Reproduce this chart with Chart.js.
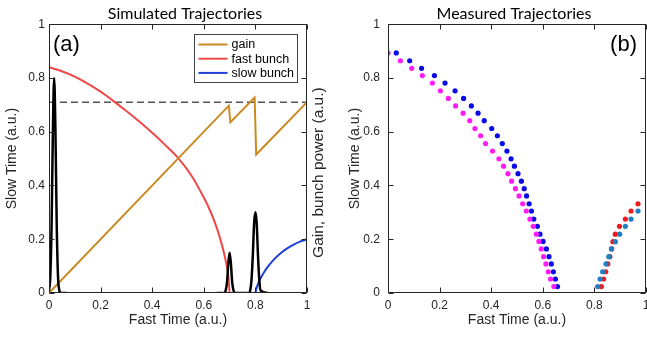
<!DOCTYPE html>
<html>
<head>
<meta charset="utf-8">
<script src="https://cdn.jsdelivr.net/npm/chart.js@4.4.1/dist/chart.umd.min.js"></script>
<style>
  html, body { margin: 0; padding: 0; background: #fff; overflow: hidden; width: 647px; height: 337px; }
  canvas { position: absolute; top: 0; }
  #left { left: 0; }
  #right { left: 335px; }
</style>
</head>
<body>
<canvas id="left" width="370" height="337"></canvas>
<canvas id="right" width="358" height="337"></canvas>
<script>
/**************************************************
 DATA
**************************************************/
// (a) simulated trajectories
const gainX = [0, 0.697, 0.703, 0.797, 0.803, 1];
const gainY = [0, 0.697, 0.635, 0.727, 0.515, 0.71];

const fastX = [0, 0.05, 0.1, 0.15, 0.2, 0.25, 0.3, 0.35, 0.4, 0.45, 0.5, 0.55, 0.6, 0.625, 0.65, 0.67, 0.685, 0.695, 0.7];
const fastY = [0.84, 0.825, 0.805, 0.779, 0.749, 0.714, 0.677, 0.638, 0.596, 0.551, 0.503, 0.44, 0.355, 0.305, 0.243, 0.18, 0.12, 0.065, 0];

const slowX = [0.8, 0.805, 0.815, 0.83, 0.85, 0.875, 0.9, 0.925, 0.95, 0.975, 1];
const slowY = [0, 0.02, 0.045, 0.072, 0.1, 0.128, 0.15, 0.167, 0.181, 0.192, 0.2];

const threshX = [0, 1];
const threshY = [0.71, 0.71];

const pulseAX = [0, 0.005, 0.01, 0.015, 0.02, 0.025, 0.03, 0.035, 0.04, 0.045, 0.07];
const pulseAY = [0.01, 0.06, 0.25, 0.6, 0.8, 0.6, 0.25, 0.06, 0.01, 0, 0];
const pulseBX = [0.65, 0.68, 0.685, 0.69, 0.695, 0.7, 0.705, 0.71, 0.715, 0.72, 0.775, 0.78, 0.785, 0.79, 0.795, 0.8, 0.805, 0.81, 0.815, 0.82, 0.85];
const pulseBY = [0, 0, 0.01, 0.04, 0.11, 0.15, 0.11, 0.04, 0.01, 0, 0, 0.01, 0.05, 0.14, 0.26, 0.3, 0.26, 0.14, 0.05, 0.01, 0];

const legendNames = ["gain", "fast bunch", "slow bunch"];

// (b) measured trajectories
const measY = [0.893, 0.864, 0.836, 0.809, 0.781, 0.752, 0.724, 0.696, 0.669, 0.641, 0.612, 0.585, 0.556, 0.528, 0.499, 0.472,
               0.444, 0.416, 0.388, 0.361, 0.332, 0.305, 0.275, 0.248, 0.219, 0.192, 0.164, 0.135, 0.108, 0.079, 0.052, 0.024];
const magX  = [0.000, 0.048, 0.092, 0.133, 0.172, 0.203, 0.234, 0.262, 0.291, 0.317, 0.337, 0.359, 0.378, 0.405, 0.430, 0.448,
               0.465, 0.479, 0.494, 0.508, 0.522, 0.536, 0.550, 0.563, 0.575, 0.585, 0.594, 0.603, 0.612, 0.621, 0.630, 0.643];
const bluX  = [0.032, 0.084, 0.130, 0.180, 0.221, 0.260, 0.293, 0.323, 0.349, 0.373, 0.402, 0.424, 0.443, 0.461, 0.477, 0.490,
               0.504, 0.517, 0.528, 0.537, 0.547, 0.556, 0.565, 0.579, 0.589, 0.601, 0.614, 0.624, 0.633, 0.641, 0.649, 0.657];

const redY   = [0.024, 0.052, 0.079, 0.108, 0.135, 0.164, 0.191, 0.219, 0.248, 0.275, 0.305, 0.332];
const redX   = [0.827, 0.836, 0.844, 0.852, 0.860, 0.867, 0.872, 0.881, 0.897, 0.920, 0.942, 0.969];
const steelY = [0.024, 0.052, 0.079, 0.108, 0.135, 0.164, 0.191, 0.219, 0.248, 0.275, 0.305];
const steelX = [0.813, 0.822, 0.832, 0.845, 0.856, 0.866, 0.881, 0.898, 0.920, 0.942, 0.969];

const ticks01 = [0, 0.2, 0.4, 0.6, 0.8, 1];

/**************************************************
 HELPERS
**************************************************/
const pts = (xs, ys) => xs.map((x, i) => ({ x, y: ys[i] }));
const AXIS = "#262626";
const FONT = '"Liberation Sans", Arial, sans-serif';
Chart.defaults.font.family = FONT;
Chart.defaults.color = AXIS;

// box + inward tick marks (matlab style), panel tag, right-hand label
const framePlugin = {
  id: "frame",
  afterDatasetsDraw(chart) {
    const { ctx, chartArea: a, scales } = chart;
    const L = Math.round(a.left) + 0.5, R = Math.round(a.right) - 0.5;
    const T = Math.round(a.top) + 0.5, B = Math.round(a.bottom) - 0.5;
    ctx.save();
    ctx.strokeStyle = AXIS;
    ctx.lineWidth = 1;
    ctx.strokeRect(L, T, R - L, B - T);
    ctx.beginPath();
    ticks01.forEach(v => {
      const px = Math.round(scales.x.getPixelForValue(v)) + 0.5;
      const py = Math.round(scales.y.getPixelForValue(v)) + 0.5;
      ctx.moveTo(px, B); ctx.lineTo(px, B - 5);
      ctx.moveTo(px, T); ctx.lineTo(px, T + 5);
      ctx.moveTo(L, py); ctx.lineTo(L + 5, py);
      ctx.moveTo(R, py); ctx.lineTo(R - 5, py);
    });
    ctx.stroke();

    const o = chart.options.plugins.frame || {};
    if (o.tag) {
      ctx.fillStyle = "#000";
      ctx.font = "22px " + FONT;
      ctx.textBaseline = "middle";
      if (o.tagSide === "right") {
        ctx.textAlign = "right";
        ctx.fillText(o.tag, a.right - 9, a.top + 21);
      } else {
        ctx.textAlign = "left";
        ctx.fillText(o.tag, a.left + 4, a.top + 21);
      }
    }
    if (o.rightLabel) {
      ctx.save();
      ctx.translate(a.right + 12, (a.top + a.bottom) / 2 + 14);
      ctx.rotate(-Math.PI / 2);
      ctx.fillStyle = AXIS;
      ctx.font = "15.5px " + FONT;
      ctx.textAlign = "center";
      ctx.textBaseline = "middle";
      ctx.fillText(o.rightLabel, 0, 0);
      ctx.restore();
    }
    ctx.restore();
  }
};

// legend box inside the plot, top right
const boxLegend = {
  id: "boxLegend",
  afterDatasetsDraw(chart) {
    const o = chart.options.plugins.boxLegend;
    if (!o || !o.items) return;
    const { ctx, chartArea: a } = chart;
    const x0 = Math.round(a.right) - 112.5, y0 = Math.round(a.top) + 10.5;
    const w = 103, h = 48;
    ctx.save();
    ctx.fillStyle = "#fff";
    ctx.fillRect(x0, y0, w, h);
    ctx.strokeStyle = "#444";
    ctx.lineWidth = 1;
    ctx.strokeRect(x0, y0, w, h);
    ctx.font = "12.5px " + FONT;
    ctx.textBaseline = "middle";
    ctx.textAlign = "left";
    o.items.forEach((it, i) => {
      const y = y0 + 10 + i * 14.2;
      ctx.strokeStyle = it.color;
      ctx.lineWidth = 2;
      ctx.beginPath();
      ctx.moveTo(x0 + 4, y); ctx.lineTo(x0 + 33, y);
      ctx.stroke();
      ctx.fillStyle = "#000";
      ctx.fillText(it.label, x0 + 37, y + 0.5);
    });
    ctx.restore();
  }
};

function axisX() {
  return {
    type: "linear", min: 0, max: 1,
    afterBuildTicks: s => { s.ticks = ticks01.map(v => ({ value: v })); },
    ticks: { padding: 5, font: { size: 12 }, color: AXIS, callback: v => String(+v.toFixed(1)) },
    grid: { display: false, drawTicks: false },
    border: { display: false },
    title: { display: true, text: "Fast Time (a.u.)", font: { size: 14 }, color: AXIS, padding: { top: 4, bottom: 8 } },
    afterFit: s => { s.height = 44; }
  };
}
function axisY(width, tickPad, titlePad) {
  return {
    type: "linear", min: 0, max: 1, position: "left",
    afterBuildTicks: s => { s.ticks = ticks01.map(v => ({ value: v })); },
    ticks: { padding: tickPad, font: { size: 12 }, color: AXIS, callback: v => String(+v.toFixed(1)) },
    grid: { display: false, drawTicks: false },
    border: { display: false },
    title: { display: true, text: "Slow Time (a.u.)", font: { size: 14 }, color: AXIS, padding: titlePad },
    afterFit: s => { s.width = width; }
  };
}
// blank right-hand spacer axis
function spacer(width) {
  return {
    type: "linear", min: 0, max: 1, position: "right",
    ticks: { display: false },
    grid: { display: false, drawTicks: false },
    border: { display: false },
    afterFit: s => { s.width = width; }
  };
}
function titleOpts(text) {
  return { display: true, text, color: "#000", font: { family: "Lato", size: 16, weight: "normal" }, padding: { top: 4, bottom: 1 } };
}

/**************************************************
 (a) SIMULATED TRAJECTORIES
**************************************************/
const GOLD = "#c98a22", RED = "#f04848", BLUE = "#1c3fd8";

new Chart(document.getElementById("left"), {
  type: "line",
  data: {
    datasets: [
      { label: "pulses", data: pts(pulseAX, pulseAY), borderColor: "#000", borderWidth: 2.5, cubicInterpolationMode: "monotone", order: 1 },
      { label: "pulses2", data: pts(pulseBX, pulseBY), borderColor: "#000", borderWidth: 2.5, cubicInterpolationMode: "monotone", order: 1 },
      { label: legendNames[2], data: pts(slowX, slowY), borderColor: BLUE, borderWidth: 2, cubicInterpolationMode: "monotone", order: 2 },
      { label: legendNames[0], data: pts(gainX, gainY), borderColor: GOLD, borderWidth: 2, tension: 0, order: 3 },
      { label: legendNames[1], data: pts(fastX, fastY), borderColor: RED, borderWidth: 2, cubicInterpolationMode: "monotone", order: 4 },
      { label: "threshold", data: pts(threshX, threshY), borderColor: "#555", borderWidth: 1.5, borderDash: [7, 4], order: 5 }
    ]
  },
  options: {
    responsive: false,
    animation: false,
    elements: { point: { radius: 0 } },
    scales: {
      x: axisX(),
      y: axisY(49, 4, { top: 4, bottom: 4 }),
      y2: spacer(63)
    },
    plugins: {
      legend: { display: false },
      tooltip: { enabled: false },
      title: titleOpts("Simulated Trajectories"),
      frame: { tag: "(a)", tagSide: "left", rightLabel: "Gain, bunch power (a.u.)" },
      boxLegend: { items: [
        { label: legendNames[0], color: GOLD },
        { label: legendNames[1], color: RED },
        { label: legendNames[2], color: BLUE }
      ] }
    }
  },
  plugins: [framePlugin, boxLegend]
});

/**************************************************
 (b) MEASURED TRAJECTORIES
**************************************************/
const dot = (data, color) => ({ data, backgroundColor: color, borderColor: color, pointRadius: 2.6, pointBorderWidth: 0, showLine: false });

new Chart(document.getElementById("right"), {
  type: "scatter",
  data: {
    datasets: [
      dot(pts(magX, measY), "#ff1cf4"),
      dot(pts(bluX, measY), "#0a0ae6"),
      dot(pts(steelX, steelY), "#1f7fc2"),
      dot(pts(redX, redY), "#ee1c1c")
    ]
  },
  options: {
    responsive: false,
    animation: false,
    scales: {
      x: axisX(),
      y: axisY(53, 8, { top: 12, bottom: 4 }),
      y2: spacer(47)
    },
    plugins: {
      legend: { display: false },
      tooltip: { enabled: false },
      title: titleOpts("Measured Trajectories"),
      frame: { tag: "(b)", tagSide: "right" }
    }
  },
  plugins: [framePlugin]
});
</script>
</body>
</html>
